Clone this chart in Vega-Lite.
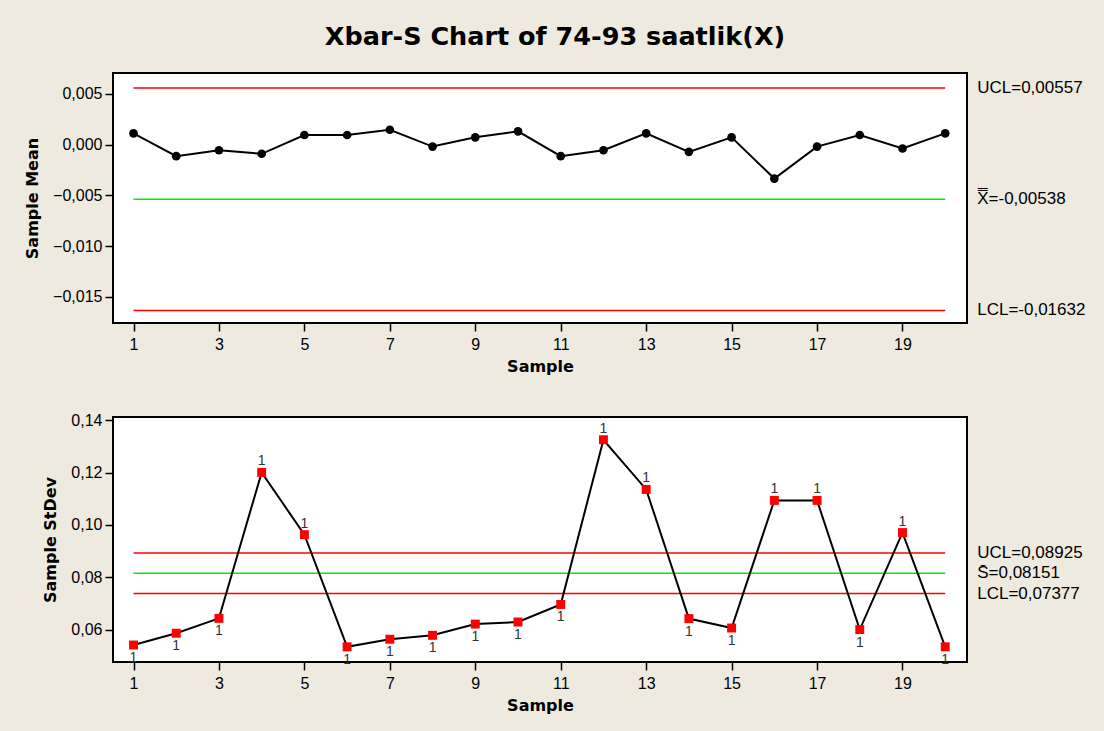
{
  "$schema": "https://vega.github.io/schema/vega-lite/v6.json",
  "background": "#EEEAE0",
  "padding": {"left": 23, "top": 24, "right": 17, "bottom": 20},
  "title": {"text": "Xbar-S Chart of 74-93 saatlik(X)", "font": "DejaVu Sans", "fontSize": 25.5, "fontWeight": "bold", "color": "black", "anchor": "middle", "offset": 22},
  "datasets": {
    "samples": [
      {"sample": 1, "mean": 0.0011, "sd": 0.0541, "test": "1"},
      {"sample": 2, "mean": -0.00114, "sd": 0.0586, "test": "1"},
      {"sample": 3, "mean": -0.00056, "sd": 0.0643, "test": "1"},
      {"sample": 4, "mean": -0.00091, "sd": 0.1201, "test": "1"},
      {"sample": 5, "mean": 0.00094, "sd": 0.0963, "test": "1"},
      {"sample": 6, "mean": 0.00094, "sd": 0.0534, "test": "1"},
      {"sample": 7, "mean": 0.00146, "sd": 0.0563, "test": "1"},
      {"sample": 8, "mean": -0.0002, "sd": 0.0578, "test": "1"},
      {"sample": 9, "mean": 0.00071, "sd": 0.0621, "test": "1"},
      {"sample": 10, "mean": 0.0013, "sd": 0.0629, "test": "1"},
      {"sample": 11, "mean": -0.00114, "sd": 0.0696, "test": "1"},
      {"sample": 12, "mean": -0.00056, "sd": 0.1326, "test": "1"},
      {"sample": 13, "mean": 0.0011, "sd": 0.1136, "test": "1"},
      {"sample": 14, "mean": -0.00072, "sd": 0.0642, "test": "1"},
      {"sample": 15, "mean": 0.00071, "sd": 0.0606, "test": "1"},
      {"sample": 16, "mean": -0.00335, "sd": 0.1094, "test": "1"},
      {"sample": 17, "mean": -0.0002, "sd": 0.1094, "test": "1"},
      {"sample": 18, "mean": 0.00094, "sd": 0.0600, "test": "1"},
      {"sample": 19, "mean": -0.00039, "sd": 0.0971, "test": "1"},
      {"sample": 20, "mean": 0.0011, "sd": 0.0534, "test": "1"}
    ],
    "meanLimits": [
      {"line": "UCL", "value": 0.00557, "label": "UCL=0,00557", "kind": "limit"},
      {"line": "center", "value": -0.00538, "label": "X̿=-0,00538", "kind": "center"},
      {"line": "LCL", "value": -0.01632, "label": "LCL=-0,01632", "kind": "limit"}
    ],
    "sdLimits": [
      {"line": "UCL", "value": 0.08925, "label": "UCL=0,08925", "kind": "limit"},
      {"line": "center", "value": 0.08151, "label": "S̄=0,08151", "kind": "center"},
      {"line": "LCL", "value": 0.07377, "label": "LCL=0,07377", "kind": "limit"}
    ]
  },
  "spacing": 36,
  "vconcat": [
    {
      "width": 854,
      "height": 250,
      "layer": [
        {
          "data": {"name": "meanLimits"},
          "mark": {"type": "rule", "strokeWidth": 1.5},
          "encoding": {
            "x": {"datum": 1, "type": "quantitative"},
            "x2": {"datum": 20},
            "y": {"field": "value", "type": "quantitative"},
            "color": {"field": "kind", "type": "nominal", "scale": {"domain": ["limit", "center"], "range": ["#FF0000", "#00EE00"]}, "legend": null}
          }
        },
        {
          "data": {"name": "meanLimits"},
          "mark": {"type": "text", "align": "left", "baseline": "middle", "dx": 32, "font": "Liberation Sans", "fontSize": 17, "fill": "black"},
          "encoding": {
            "x": {"datum": 20, "type": "quantitative"},
            "y": {"field": "value", "type": "quantitative"},
            "text": {"field": "label"}
          }
        },
        {
          "data": {"name": "samples"},
          "mark": {"type": "line", "color": "black", "strokeWidth": 2, "point": {"filled": true, "color": "black", "size": 75, "opacity": 1}},
          "encoding": {
            "x": {"field": "sample", "type": "quantitative", "scale": {"domain": [0.52, 20.51], "nice": false, "zero": false},
                  "axis": {"values": [1, 3, 5, 7, 9, 11, 13, 15, 17, 19], "title": "Sample"}},
            "y": {"field": "mean", "type": "quantitative", "scale": {"domain": [-0.01756, 0.00704], "nice": false, "zero": false},
                  "axis": {"values": [-0.015, -0.01, -0.005, 0, 0.005], "title": "Sample Mean", "labelExpr": "replace(format(datum.value, '.3f'), '.', ',')"}}
          }
        }
      ]
    },
    {
      "width": 854,
      "height": 245,
      "layer": [
        {
          "data": {"name": "sdLimits"},
          "mark": {"type": "rule", "strokeWidth": 1.5},
          "encoding": {
            "x": {"datum": 1, "type": "quantitative"},
            "x2": {"datum": 20},
            "y": {"field": "value", "type": "quantitative"},
            "color": {"field": "kind", "type": "nominal", "scale": {"domain": ["limit", "center"], "range": ["#FF0000", "#00EE00"]}, "legend": null}
          }
        },
        {
          "data": {"name": "sdLimits"},
          "mark": {"type": "text", "align": "left", "baseline": "middle", "dx": 32, "font": "Liberation Sans", "fontSize": 17, "fill": "black"},
          "encoding": {
            "x": {"datum": 20, "type": "quantitative"},
            "y": {"field": "value", "type": "quantitative"},
            "text": {"field": "label"}
          }
        },
        {
          "data": {"name": "samples"},
          "mark": {"type": "line", "color": "black", "strokeWidth": 2, "point": {"filled": true, "shape": "square", "color": "#FF0000", "size": 80, "opacity": 1}},
          "encoding": {
            "x": {"field": "sample", "type": "quantitative", "scale": {"domain": [0.52, 20.51], "nice": false, "zero": false},
                  "axis": {"values": [1, 3, 5, 7, 9, 11, 13, 15, 17, 19], "title": "Sample"}},
            "y": {"field": "sd", "type": "quantitative", "scale": {"domain": [0.0476, 0.1413], "nice": false, "zero": false},
                  "axis": {"values": [0.06, 0.08, 0.1, 0.12, 0.14], "title": "Sample StDev", "labelExpr": "replace(format(datum.value, '.2f'), '.', ',')"}}
          }
        },
        {
          "data": {"name": "samples"},
          "transform": [{"filter": "datum.sd > 0.08925"}],
          "mark": {"type": "text", "dy": -11, "font": "Liberation Sans", "fontSize": 14, "fill": "#333333"},
          "encoding": {
            "x": {"field": "sample", "type": "quantitative"},
            "y": {"field": "sd", "type": "quantitative"},
            "text": {"field": "test"}
          }
        },
        {
          "data": {"name": "samples"},
          "transform": [{"filter": "datum.sd < 0.07377"}],
          "mark": {"type": "text", "dy": 13, "font": "Liberation Sans", "fontSize": 14, "fill": "#333333"},
          "encoding": {
            "x": {"field": "sample", "type": "quantitative"},
            "y": {"field": "sd", "type": "quantitative"},
            "text": {"field": "test"}
          }
        }
      ]
    }
  ],
  "config": {
    "view": {"stroke": "black", "strokeWidth": 2, "fill": "white"},
    "axis": {
      "domain": false,
      "grid": false,
      "tickColor": "black",
      "tickSize": 8,
      "tickWidth": 1.5,
      "labelFont": "Liberation Sans",
      "labelFontSize": 16,
      "labelColor": "black",
      "labelPadding": 3,
      "titleFont": "DejaVu Sans",
      "titleFontSize": 16,
      "titleFontWeight": "bold",
      "titleColor": "black"
    },
    "axisX": {"titlePadding": 6, "labelPadding": 5, "labelFlush": false},
    "axisY": {"titlePadding": 12, "labelFlush": false}
  }
}
